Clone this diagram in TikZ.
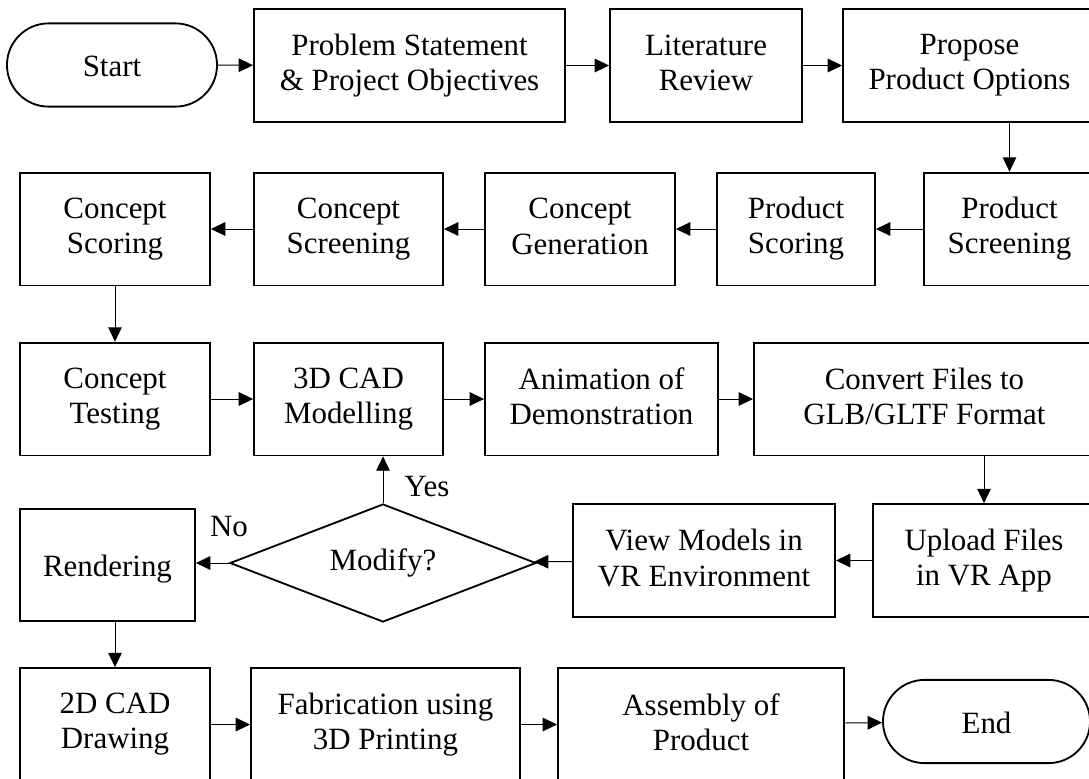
\documentclass[tikz,border=0pt]{standalone}
\usepackage{fontspec}
\setmainfont{Liberation Serif}
\usetikzlibrary{shapes.geometric,arrows.meta}
\newcommand\topstrut{\rule{0pt}{21pt}}
\newcommand\botstrut{\rule[-4pt]{0pt}{4pt}}

\begin{document}
\begin{tikzpicture}[x=0.025cm,y=-0.025cm,
  every node/.style={font=\fontsize{22}{25}\selectfont, align=center},
  txt/.style={execute at begin node=\topstrut, execute at end node=\botstrut},
  box/.style={txt, draw, line width=1.3pt, minimum height=2.82cm, inner sep=2pt},
  term/.style={txt, draw, line width=1.3pt, rounded corners=1.04cm, minimum height=2.08cm},
  dec/.style={draw, diamond, aspect=2.6, line width=1.3pt, minimum width=7.65cm, minimum height=2.95cm, inner sep=0pt},
  arr/.style={line width=0.7pt, -{Triangle[length=0.36cm,width=0.34cm]}}]
\clip (0,0) rectangle (1089,778);

\node[term, minimum width=5.25cm] (St) at (112,65) {Start};
\node[box, minimum width=7.775cm] (PS) at (409.5,65.5) {Problem Statement\\ \& Project Objectives};
\node[box, minimum width=4.8cm] (LR) at (706,65.5) {Literature\\Review};
\node[box, minimum width=6.325cm] (PPO) at (969.5,65.5) {Propose\\Product Options};

\node[box, minimum width=4.275cm] (PSc) at (1009.5,229) {Product\\Screening};
\node[box, minimum width=3.95cm] (PSo) at (796,229) {Product\\Scoring};
\node[box, minimum width=4.75cm] (CG) at (580,229) {Concept\\Generation};
\node[box, minimum width=4.725cm] (CSc) at (348.5,229) {Concept\\Screening};
\node[box, minimum width=4.75cm] (CSo) at (115,229) {Concept\\Scoring};

\node[box, minimum width=4.75cm] (CT) at (115,399) {Concept\\Testing};
\node[box, minimum width=4.725cm] (M3) at (348.5,399) {3D CAD\\Modelling};
\node[box, minimum width=5.825cm] (AD) at (601.5,399) {Animation of\\Demonstration};
\node[box, minimum width=8.525cm] (CF) at (924.5,399) {Convert Files to\\GLB/GLTF Format};

\node[box, minimum width=5.55cm] (UF) at (984,560.5) {Upload Files\\in VR App};
\node[box, minimum width=6.55cm] (VM) at (704,560.5) {View Models in\\VR Environment};
\node[dec] (Mod) at (383,563) {Modify?};
\node[box, minimum width=4.375cm, minimum height=2.8cm] (Ren) at (107.5,565) {Rendering};

\node[box, minimum width=4.75cm] (D2) at (115,724.5) {2D CAD\\Drawing};
\node[box, minimum width=6.725cm] (Fab) at (385.5,724.5) {Fabrication using\\3D Printing};
\node[box, minimum width=7.15cm] (Asm) at (701,724.5) {Assembly of\\Product};
\node[term, minimum width=5.175cm] (E) at (986.5,721.5) {End};

\node (Y) at (427,487) {Yes};
\node (N) at (229,527) {No};

\path (St) edge[arr] (PS);
\path (PS) edge[arr] (LR);
\path (LR) edge[arr] (PPO);
\path (PPO.south -| PSc.north) edge[arr] (PSc.north);
\path (PSc) edge[arr] (PSo);
\path (PSo) edge[arr] (CG);
\path (CG) edge[arr] (CSc);
\path (CSc) edge[arr] (CSo);
\path (CSo) edge[arr] (CT);
\path (CT) edge[arr] (M3);
\path (M3) edge[arr] (AD);
\path (AD) edge[arr] (CF);
\path (CF.south -| UF.north) edge[arr] (UF.north);
\path (UF) edge[arr] (VM);
\path (VM) edge[arr] (Mod);
\path (Mod.west) edge[arr] (Mod.west -| Ren.east);
\path (Mod.north) edge[arr] (Mod.north |- M3.south);
\path (Ren.south -| D2.north) edge[arr] (D2.north);
\path (D2) edge[arr] (Fab);
\path (Fab) edge[arr] (Asm);
\path (Asm) edge[arr] (E);
\end{tikzpicture}
\end{document}
